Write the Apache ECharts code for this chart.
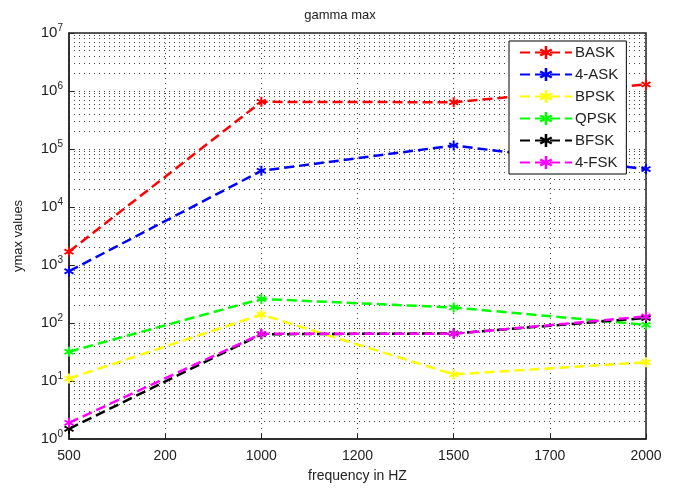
<!DOCTYPE html>
<html>
<head>
<meta charset="utf-8">
<script src="https://cdn.jsdelivr.net/npm/echarts@6/dist/echarts.min.js"></script>
<style>
  html, body { margin: 0; padding: 0; background: #fff; }
  #chart { width: 680px; height: 488px; }
</style>
</head>
<body>
<div id="chart"></div>
<script>
// x positions of the measured points and the (odd) tick labels used in the figure
var freqs = [500, 1000, 1500, 2000];
var xTickLabels = ['500', '200', '1000', '1200', '1500', '1700', '2000'];

var bask = [1700, 650000, 640000, 1300000];
var ask4 = [780, 42000, 115000, 45000];
var bpsk = [11, 140, 13, 21];
var qpsk = [32, 260, 185, 93];
var bfsk = [1.5, 64, 66, 122];
var fsk4 = [1.9, 65, 65, 130];

var names = ['BASK', '4-ASK', 'BPSK', 'QPSK', 'BFSK', '4-FSK'];
var colors = ['#ff0000', '#0000ff', '#ffff00', '#00ff00', '#000000', '#ff00ff'];
var values = [bask, ask4, bpsk, qpsk, bfsk, fsk4];

// star-like marker (matlab '*')
var star = 'path://M4,0 L6,0 L6,3.5 L9,1.8 L10,3.5 L7,5 L10,6.5 L9,8.2 L6,6.5 L6,10 L4,10 L4,6.5 L1,8.2 L0,6.5 L3,5 L0,3.5 L1,1.8 L4,3.5 Z';

// minor log grid (2..9 of every decade)
var minorLines = [];
for (var k = 0; k < 7; k++) {
    for (var m = 2; m <= 9; m++) {
        minorLines.push({ yAxis: m * Math.pow(10, k) });
    }
}

var chart = echarts.init(document.getElementById('chart'));

var series = names.map(function (name, i) {
    var s = {
        name: name,
        type: 'line',
        data: freqs.map(function (f, j) { return [f, values[i][j]]; }),
        symbol: star,
        symbolSize: 10,
        clip: false,
        z: 2,
        itemStyle: { color: colors[i] },
        lineStyle: { color: colors[i], width: 2.5, type: [10, 5] },
        animation: false
    };
    if (i === 0) {
        s.markLine = {
            silent: true,
            symbol: 'none',
            label: { show: false },
            animation: false,
            z: 1,
            lineStyle: { color: '#444', width: 1, type: [1, 4] },
            data: minorLines
        };
    }
    return s;
});

var option = {
    backgroundColor: '#fff',
    animation: false,
    textStyle: { fontFamily: 'Liberation Sans, Arial, sans-serif' },
    title: {
        text: 'gamma max',
        left: 'center',
        top: 4,
        textStyle: { fontSize: 13, fontWeight: 'normal', color: '#222' }
    },
    legend: {
        orient: 'vertical',
        left: 509,
        top: 41,
        width: 127,
        z: 50,
        padding: [4, 8, 4, 10],
        itemGap: 7,
        itemWidth: 52,
        itemHeight: 16,
        backgroundColor: '#fff',
        borderColor: '#000',
        borderWidth: 1,
        borderRadius: 0,
        textStyle: { fontSize: 15, color: '#222', padding: [0, 0, 0, -2] },
        data: names
    },
    grid: {
        left: 69,
        right: 34,
        top: 33,
        bottom: 45,
        show: true,
        borderColor: '#222',
        borderWidth: 1.5
    },
    xAxis: {
        type: 'value',
        min: 500,
        max: 2000,
        interval: 250,
        name: 'frequency in HZ',
        nameLocation: 'middle',
        nameGap: 30,
        nameTextStyle: { fontSize: 14, color: '#222' },
        axisLine: { lineStyle: { color: '#222', width: 1.5 } },
        axisTick: { inside: true, length: 5, lineStyle: { color: '#222' } },
        axisLabel: {
            fontSize: 14,
            color: '#222',
            margin: 10,
            formatter: function (v) {
                return xTickLabels[Math.round((v - 500) / 250)];
            }
        },
        splitLine: { show: true, lineStyle: { color: '#444', type: [1, 4] } }
    },
    yAxis: {
        type: 'log',
        logBase: 10,
        min: 1,
        max: 10000000,
        name: 'ymax values',
        nameLocation: 'middle',
        nameGap: 44,
        nameTextStyle: { fontSize: 13, color: '#222' },
        axisLine: { show: true, lineStyle: { color: '#222', width: 1.5 } },
        axisTick: { inside: true, length: 5, lineStyle: { color: '#222' } },
        axisLabel: {
            color: '#222',
            margin: 6,
            formatter: function (v) {
                return '10{s|' + Math.round(Math.log10(v)) + '}';
            },
            rich: {
                s: { fontSize: 10, verticalAlign: 'top', padding: [0, 0, 10, 0], color: '#222' }
            },
            fontSize: 15
        },
        splitLine: { show: true, lineStyle: { color: '#444', type: [1, 4] } }
    },
    series: series
};

chart.setOption(option);
</script>
</body>
</html>
